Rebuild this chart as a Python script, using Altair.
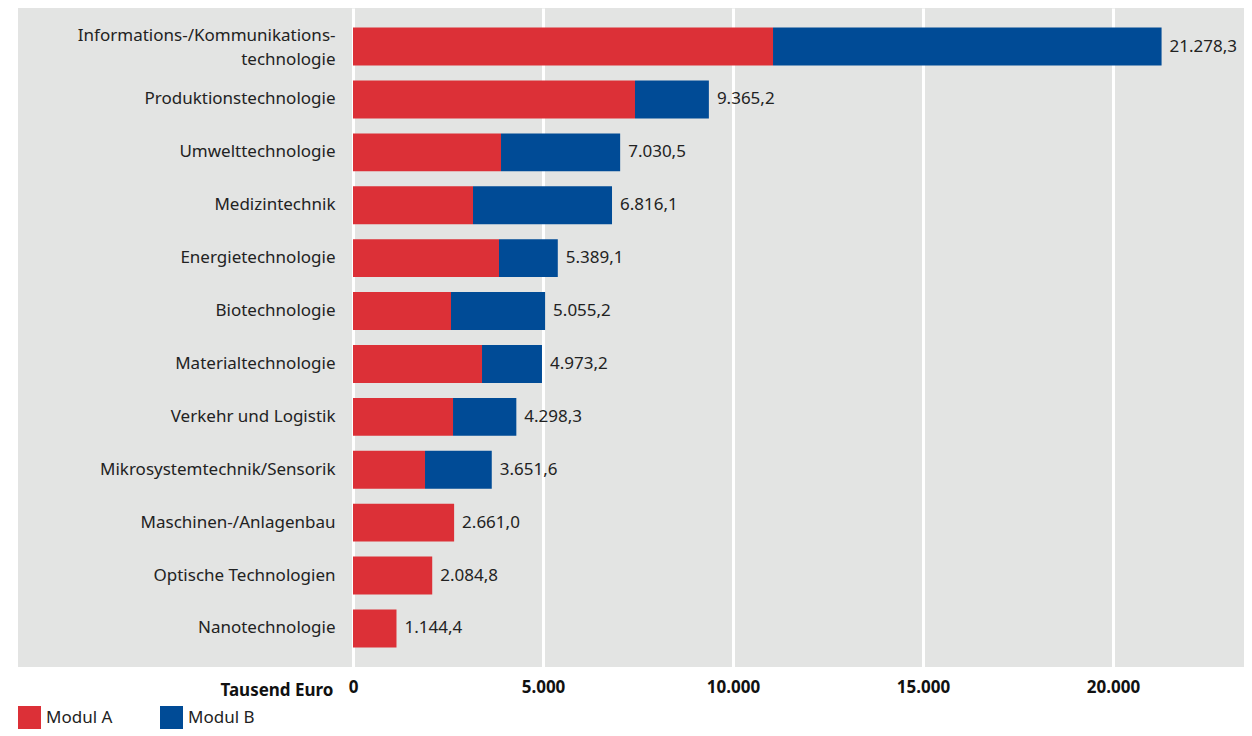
import altair as alt
import pandas as pd

categories = [
    "Informations-/Kommunikations-|technologie",
    "Produktionstechnologie",
    "Umwelttechnologie",
    "Medizintechnik",
    "Energietechnologie",
    "Biotechnologie",
    "Materialtechnologie",
    "Verkehr und Logistik",
    "Mikrosystemtechnik/Sensorik",
    "Maschinen-/Anlagenbau",
    "Optische Technologien",
    "Nanotechnologie",
]
modul_a = [11053, 7421, 3895, 3158, 3842, 2579, 3395, 2632, 1895, 2661.0, 2084.8, 1144.4]
totals = [21278.3, 9365.2, 7030.5, 6816.1, 5389.1, 5055.2, 4973.2, 4298.3, 3651.6, 2661.0, 2084.8, 1144.4]
total_labels = ["21.278,3", "9.365,2", "7.030,5", "6.816,1", "5.389,1", "5.055,2",
                "4.973,2", "4.298,3", "3.651,6", "2.661,0", "2.084,8", "1.144,4"]
series = ["Modul A", "Modul B"]
colors = ["#dc3037", "#004b96"]
tick_values = [0, 5000, 10000, 15000, 20000]

rows = []
for c, a, t in zip(categories, modul_a, totals):
    rows.append({"category": c, "series": "Modul A", "value": a, "ord": 0})
    b = round(t - a, 1)
    if b > 0:
        rows.append({"category": c, "series": "Modul B", "value": b, "ord": 1})
df = pd.DataFrame(rows)
df_tot = pd.DataFrame({"category": categories, "total": totals, "label": total_labels})

px_per_unit = 190 / 5000.0
W = 1226
H = 659
xmin = -(353 - 18) / px_per_unit
xmax = xmin + W / px_per_unit

FONT = "Noto Sans"
xscale = alt.Scale(domain=[xmin, xmax], nice=False, zero=False)
yscale = alt.Scale(paddingInner=0.283, paddingOuter=0.37)

yaxis = alt.Axis(title=None, offset=-335, labelPadding=18, ticks=False, domain=False,
                 labelExpr="split(datum.value, '|')", labelFontSize=17, labelColor="#222222",
                 labelLineHeight=24, labelLimit=500, grid=False, labelFont=FONT,
                 labelOffset={"condition": {"test": "indexof(datum.value, '|') >= 0", "value": -11},
                              "value": 0})
xaxis = alt.Axis(values=tick_values, labelExpr="replace(format(datum.value, ','), ',', '.')",
                 title="Tausend Euro", titleX=315, titleY=23, titleAlign="right",
                 titleBaseline="middle", titleFontWeight="bold", titleFontSize=17,
                 labelFontWeight="bold", labelFontSize=17, labelPadding=12,
                 ticks=False, domain=False, grid=True, gridColor="white", gridWidth=3,
                 labelColor="#111111", titleColor="#111111", labelFont=FONT, titleFont=FONT)

bars = alt.Chart(df).mark_bar().encode(
    y=alt.Y("category:N", sort=categories, scale=yscale, axis=yaxis),
    x=alt.X("value:Q", stack="zero", scale=xscale, axis=xaxis),
    color=alt.Color("series:N", scale=alt.Scale(domain=series, range=colors),
                    legend=alt.Legend(orient="none", legendX=0, legendY=698,
                                      direction="horizontal", title=None,
                                      symbolType="square", symbolSize=529,
                                      symbolStrokeWidth=0, symbolOpacity=1,
                                      labelFontSize=17, labelOffset=5, labelFont=FONT,
                                      columnPadding=47, labelColor="#222222")),
    order=alt.Order("ord:Q"),
)

text = alt.Chart(df_tot).mark_text(align="left", dx=8, fontSize=17, color="#222222",
                                   font=FONT).encode(
    y=alt.Y("category:N", sort=categories, scale=yscale, axis=yaxis),
    x=alt.X("total:Q", scale=xscale, axis=xaxis),
    text="label:N",
)

chart = alt.layer(bars, text).properties(
    width=W, height=H,
    padding={"left": 10, "top": 0, "right": 0, "bottom": 0},
).configure(font=FONT).configure_view(fill="#e3e4e3", stroke=None)

chart.save("out.html", embed_options={"renderer": "svg", "actions": False})
